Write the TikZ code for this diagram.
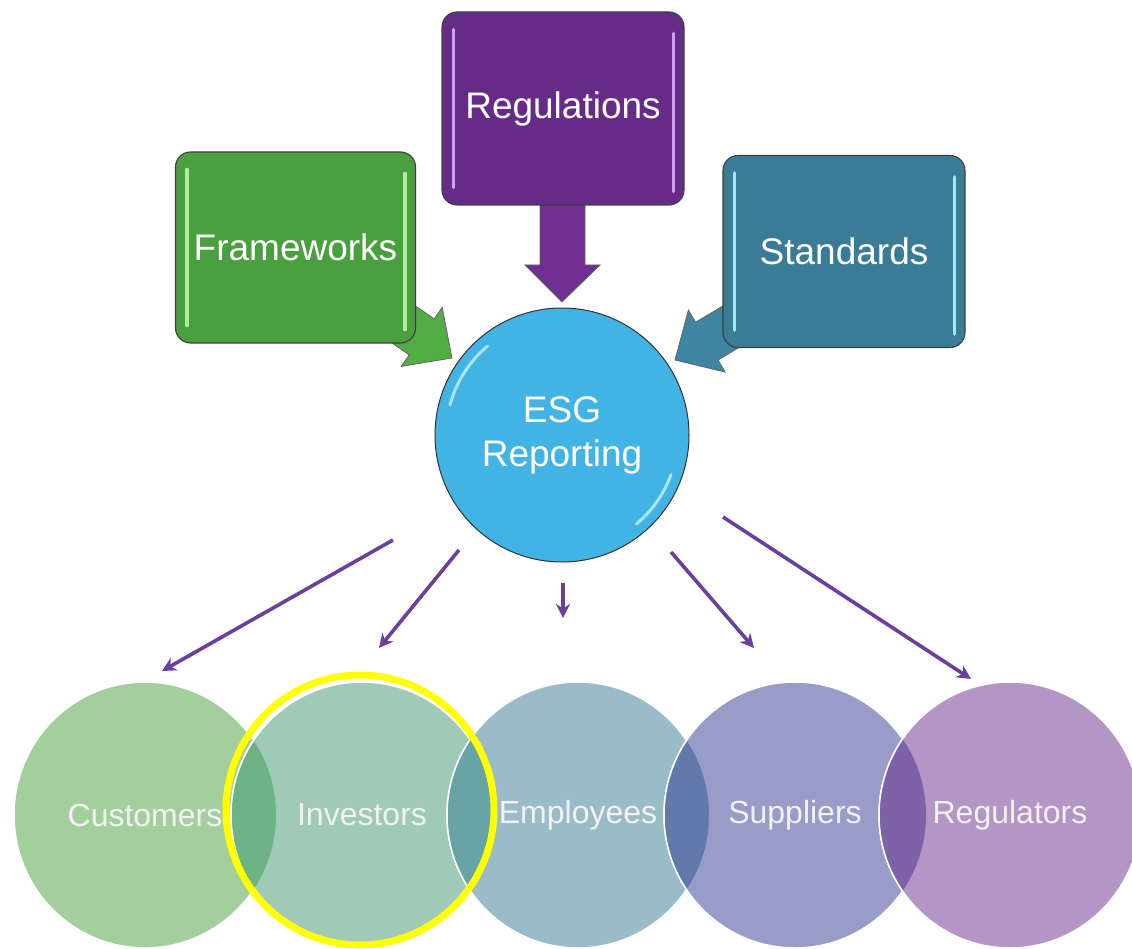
\documentclass[tikz,border=0pt]{standalone}
\usepackage{fontspec}
\setmainfont{Liberation Sans}
\usetikzlibrary{arrows.meta}
\definecolor{cgreen}{HTML}{4A9F3F}
\definecolor{cgreenA}{HTML}{52AD45}
\definecolor{cgreenL}{HTML}{B2EDA4}
\definecolor{cpurple}{HTML}{662A87}
\definecolor{cpurpleA}{HTML}{6E2E92}
\definecolor{cpurpleL}{HTML}{CDA3EE}
\definecolor{cteal}{HTML}{3A7B95}
\definecolor{ctealA}{HTML}{3D85A0}
\definecolor{ctealL}{HTML}{A6E6F8}
\definecolor{cblue}{HTML}{41B3E5}
\definecolor{cblueL}{HTML}{A8E6FA}
\definecolor{clinepurple}{HTML}{6B3FA0}
\definecolor{c1}{HTML}{A3CF9D}
\definecolor{c2}{HTML}{9ECAB7}
\definecolor{c3}{HTML}{9ABCC9}
\definecolor{c4}{HTML}{999BC9}
\definecolor{c5}{HTML}{B396C6}
\definecolor{l12}{HTML}{6DB386}
\definecolor{l23}{HTML}{68A3A6}
\definecolor{l34}{HTML}{6479AB}
\definecolor{l45}{HTML}{7E62A8}
\definecolor{cyellow}{HTML}{FFFF00}
\tikzset{
  topbox/.style={draw=black!75, line width=1.1pt, rounded corners=15pt, text=white,
    font=\fontsize{37}{42}\selectfont, inner sep=0pt},
  blockarrow/.style={draw=black!60, line width=0.8pt, line join=miter},
  gloss/.style={line width=3.5pt, line cap=round},
  thinarrow/.style={draw=clinepurple, line width=3.6pt, -{Stealth[length=14pt,width=14pt]}},
  lowlabel/.style={text=white!95!black, font=\fontsize{32}{36}\selectfont, inner sep=0pt},
}
\begin{document}
\begin{tikzpicture}[x=1pt,y=-1pt]
\useasboundingbox (0,0) rectangle (1132,949);
\fill[white] (0,0) rectangle (1132,949);

% ---------- block arrows (behind boxes) ----------
\fill[cpurpleA, blockarrow] (540,190) -- (585,190) -- (585,265) -- (600,265) -- (562,302) -- (525,265) -- (540,265) -- cycle;
\fill[cgreenA, blockarrow] (349.3,313.3) -- (409.2,354.9) -- (401.2,366.4) -- (452,358) -- (442.2,307.4) -- (434.2,318.9) -- (374.3,277.3) -- cycle;
\fill[ctealA, blockarrow] (758.4,285.0) -- (695.6,322.2) -- (688.4,310.1) -- (675,360) -- (725.2,372.1) -- (718.0,360.0) -- (780.8,322.8) -- cycle;

% ---------- top boxes ----------
\node[topbox, fill=cgreen, minimum width=240pt, minimum height=191pt] (fw) at (295.5,247.5) {Frameworks};
\node[topbox, fill=cpurple, minimum width=242pt, minimum height=193pt] (reg) at (563,108.5) {Regulations};
\node[topbox, fill=cteal, minimum width=242pt, minimum height=192pt] (std) at (844,251.5) {Standards};

% gloss stripes
\draw[gloss, cgreenL] ([xshift=12pt,yshift=-18pt]fw.north west) -- ([xshift=12pt,yshift=18pt]fw.south west);
\draw[gloss, cgreenL] ([xshift=-11pt,yshift=-22pt]fw.north east) -- ([xshift=-11pt,yshift=14pt]fw.south east);
\draw[gloss, cpurpleL] ([xshift=12pt,yshift=-18pt]reg.north west) -- ([xshift=12pt,yshift=18pt]reg.south west);
\draw[gloss, cpurpleL] ([xshift=-11pt,yshift=-22pt]reg.north east) -- ([xshift=-11pt,yshift=14pt]reg.south east);
\draw[gloss, ctealL] ([xshift=12pt,yshift=-18pt]std.north west) -- ([xshift=12pt,yshift=18pt]std.south west);
\draw[gloss, ctealL] ([xshift=-11pt,yshift=-22pt]std.north east) -- ([xshift=-11pt,yshift=14pt]std.south east);

% ---------- centre circle ----------
\node[circle, draw=black!80, line width=1pt, fill=cblue, minimum size=254pt, inner sep=0pt,
      text=white, align=center, font=\fontsize{37}{44}\selectfont] (esg) at (562,435) {ESG\\Reporting};
\draw[cblueL, line width=3pt, line cap=round] (esg.center) ++(130:116pt) arc[start angle=130, end angle=165, radius=116pt];
\draw[cblueL, line width=3pt, line cap=round] (esg.center) ++(-20:116pt) arc[start angle=-20, end angle=-50, radius=116pt];

% ---------- bottom ellipses ----------
\foreach \x/\c in {145/c1, 362/c2, 578/c3, 795/c4, 1010/c5}{
  \fill[\c] (\x,815) ellipse[x radius=131pt, y radius=133pt];
  \draw[white, line width=1.5pt] (\x,815) ellipse[x radius=131pt, y radius=133pt];
}
% overlaps
\foreach \xa/\xb/\c in {145/362/l12, 362/578/l23, 578/795/l34, 795/1010/l45}{
  \begin{scope}
    \clip (\xa,815) ellipse[x radius=131pt, y radius=133pt];
    \fill[\c] (\xb,815) ellipse[x radius=131pt, y radius=133pt];
    \draw[white, line width=1.5pt] (\xb,815) ellipse[x radius=131pt, y radius=133pt];
  \end{scope}
}
\node[lowlabel] (cu) at (145,815) {Customers};
\node[lowlabel] (in) at (362,815) {Investors};
\node[lowlabel] (em) at (578,815) {Employees};
\node[lowlabel] (su) at (795,815) {Suppliers};
\node[lowlabel] (re) at (1010,815) {Regulators};

% highlight ring
\draw[cyellow, line width=7pt] (360,810) ellipse[x radius=134pt, y radius=135pt];

% ---------- thin arrows ----------
\coordinate (s1) at (393,540); \coordinate (e1) at (162,671);
\coordinate (s2) at (459,550); \coordinate (e2) at (379,648);
\coordinate (s3) at (563,583); \coordinate (e3) at (563,618);
\coordinate (s4) at (671,552); \coordinate (e4) at (754,648);
\coordinate (s5) at (723,517); \coordinate (e5) at (971,679);
\foreach \i in {1,...,5}{\draw[thinarrow] (s\i) -- (e\i);}
\end{tikzpicture}
\end{document}
